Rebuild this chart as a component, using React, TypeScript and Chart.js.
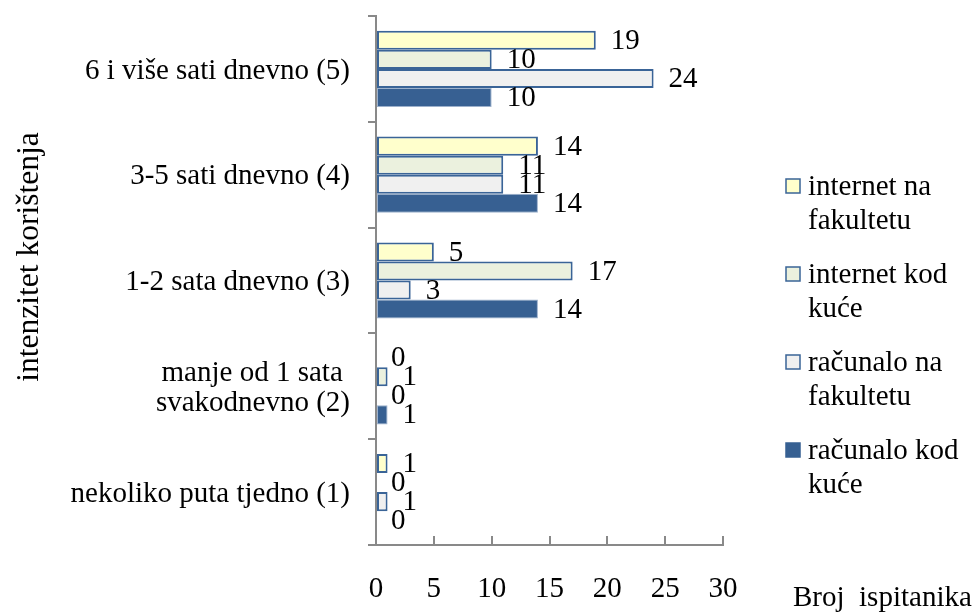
import React, { useEffect, useRef } from 'react';
import { Chart, registerables } from 'chart.js';

Chart.register(...registerables);

const categories: (string | string[])[] = [
  '6 i više sati dnevno (5)',
  '3-5 sati dnevno (4)',
  '1-2 sata dnevno (3)',
  ['manje od 1 sata ', 'svakodnevno (2)'],
  'nekoliko puta tjedno (1)',
];
const seriesNames = ['internet na fakultetu', 'internet kod kuće', 'računalo na fakultetu', 'računalo kod kuće'];
const legendLines = [
  ['internet na', 'fakultetu'],
  ['internet kod', 'kuće'],
  ['računalo na', 'fakultetu'],
  ['računalo kod', 'kuće'],
];
const internetFakultet = [19, 14, 5, 0, 1];
const internetKuca = [10, 11, 17, 1, 0];
const racunaloFakultet = [24, 11, 3, 0, 1];
const racunaloKuca = [10, 14, 14, 1, 0];
const xMin = 0;
const xMax = 30;
const xStep = 5;
const yTitle = 'intenzitet korištenja';
const xTitle = 'Broj  ispitanika';

const FONT = '"Liberation Serif", "Times New Roman", serif';
const FONT_SIZE = 29;
const fills = ['#FFFFCC', '#EBF1DE', '#F0F0F0', '#376092'];
const borders = ['#3A6497', '#3A6497', '#3A6497', '#9DB1CC'];
const AXIS = '#898989';

const overlay = {
  id: 'overlay',
  afterDatasetsDraw(chart: any) {
    const ctx = chart.ctx;
    ctx.save();
    ctx.font = `${FONT_SIZE}px ${FONT}`;
    ctx.fillStyle = '#000';
    ctx.textBaseline = 'middle';
    ctx.textAlign = 'left';
    chart.data.datasets.forEach((ds: any, i: number) => {
      const meta = chart.getDatasetMeta(i);
      meta.data.forEach((el: any, j: number) => {
        ctx.fillText(String(ds.data[j]), el.x + 15, el.y + 1);
      });
    });
    ctx.restore();
  },
  afterDraw(chart: any) {
    const ctx = chart.ctx;
    const area = chart.chartArea;
    ctx.save();
    ctx.font = `${FONT_SIZE}px ${FONT}`;
    ctx.fillStyle = '#000';
    ctx.textBaseline = 'middle';
    ctx.textAlign = 'left';
    // legend
    const lx = area.right + 63;
    const ly = area.top + 170;
    legendLines.forEach((lines, i) => {
      const cy = ly + i * 88;
      ctx.fillStyle = fills[i];
      ctx.fillRect(lx, cy - 7, 14, 14);
      ctx.strokeStyle = i === 3 ? fills[3] : borders[i];
      ctx.lineWidth = 1.5;
      ctx.strokeRect(lx, cy - 7, 14, 14);
      ctx.fillStyle = '#000';
      lines.forEach((t, k) => ctx.fillText(t, lx + 22, cy + 1 + k * 34));
    });
    // x title
    ctx.fillText(xTitle, area.right + 70, 598);
    // y title
    ctx.font = `31.5px ${FONT}`;
    ctx.translate(30, 257);
    ctx.rotate(-Math.PI / 2);
    ctx.textAlign = 'center';
    ctx.fillText(yTitle, 0, 0);
    ctx.restore();
  },
};

export default function App() {
  const ref = useRef<HTMLCanvasElement>(null);
  useEffect(() => {
    if (!ref.current) return;
    const series = [internetFakultet, internetKuca, racunaloFakultet, racunaloKuca];
    const chart = new Chart(ref.current, {
      type: 'bar',
      data: {
        labels: categories,
        datasets: series.map((d, i) => ({
          label: seriesNames[i],
          data: d,
          backgroundColor: fills[i],
          borderColor: borders[i],
          borderWidth: i === 3 ? 1 : 2,
          borderSkipped: false,
          categoryPercentage: 0.72,
          barPercentage: 1,
        })),
      },
      options: {
        indexAxis: 'y',
        animation: false,
        responsive: false,
        layout: { padding: { top: 16, right: 252, left: 0, bottom: 0 } },
        plugins: { legend: { display: false }, tooltip: { enabled: false } },
        scales: {
          x: {
            type: 'linear',
            min: xMin,
            max: xMax,
            ticks: { stepSize: xStep, color: '#000', font: { family: FONT, size: FONT_SIZE }, padding: 36 },
            grid: { drawOnChartArea: false, drawTicks: true, tickLength: -9, color: AXIS, lineWidth: 2 },
            border: { display: true, color: AXIS, width: 2 },
            afterFit: (s: any) => { s.height = 67; s.paddingLeft = 0; s.paddingRight = 0; },
          },
          y: {
            type: 'category',
            offset: true,
            ticks: { color: '#000', font: { family: FONT, size: FONT_SIZE, lineHeight: 1.03 }, padding: 18, labelOffset: 2 },
            grid: { offset: true, drawOnChartArea: false, drawTicks: true, tickLength: 8, color: AXIS, lineWidth: 2 },
            border: { display: true, color: AXIS, width: 2 },
            afterFit: (s: any) => { s.width = 376; s.paddingTop = 0; s.paddingBottom = 0; },
          },
        },
      },
      plugins: [overlay],
    } as any);
    return () => chart.destroy();
  }, []);
  return (
    <div style={{ position: 'absolute', left: 0, top: 0, width: 975, height: 612, background: '#fff' }}>
      <canvas ref={ref} width={975} height={612} />
    </div>
  );
}
